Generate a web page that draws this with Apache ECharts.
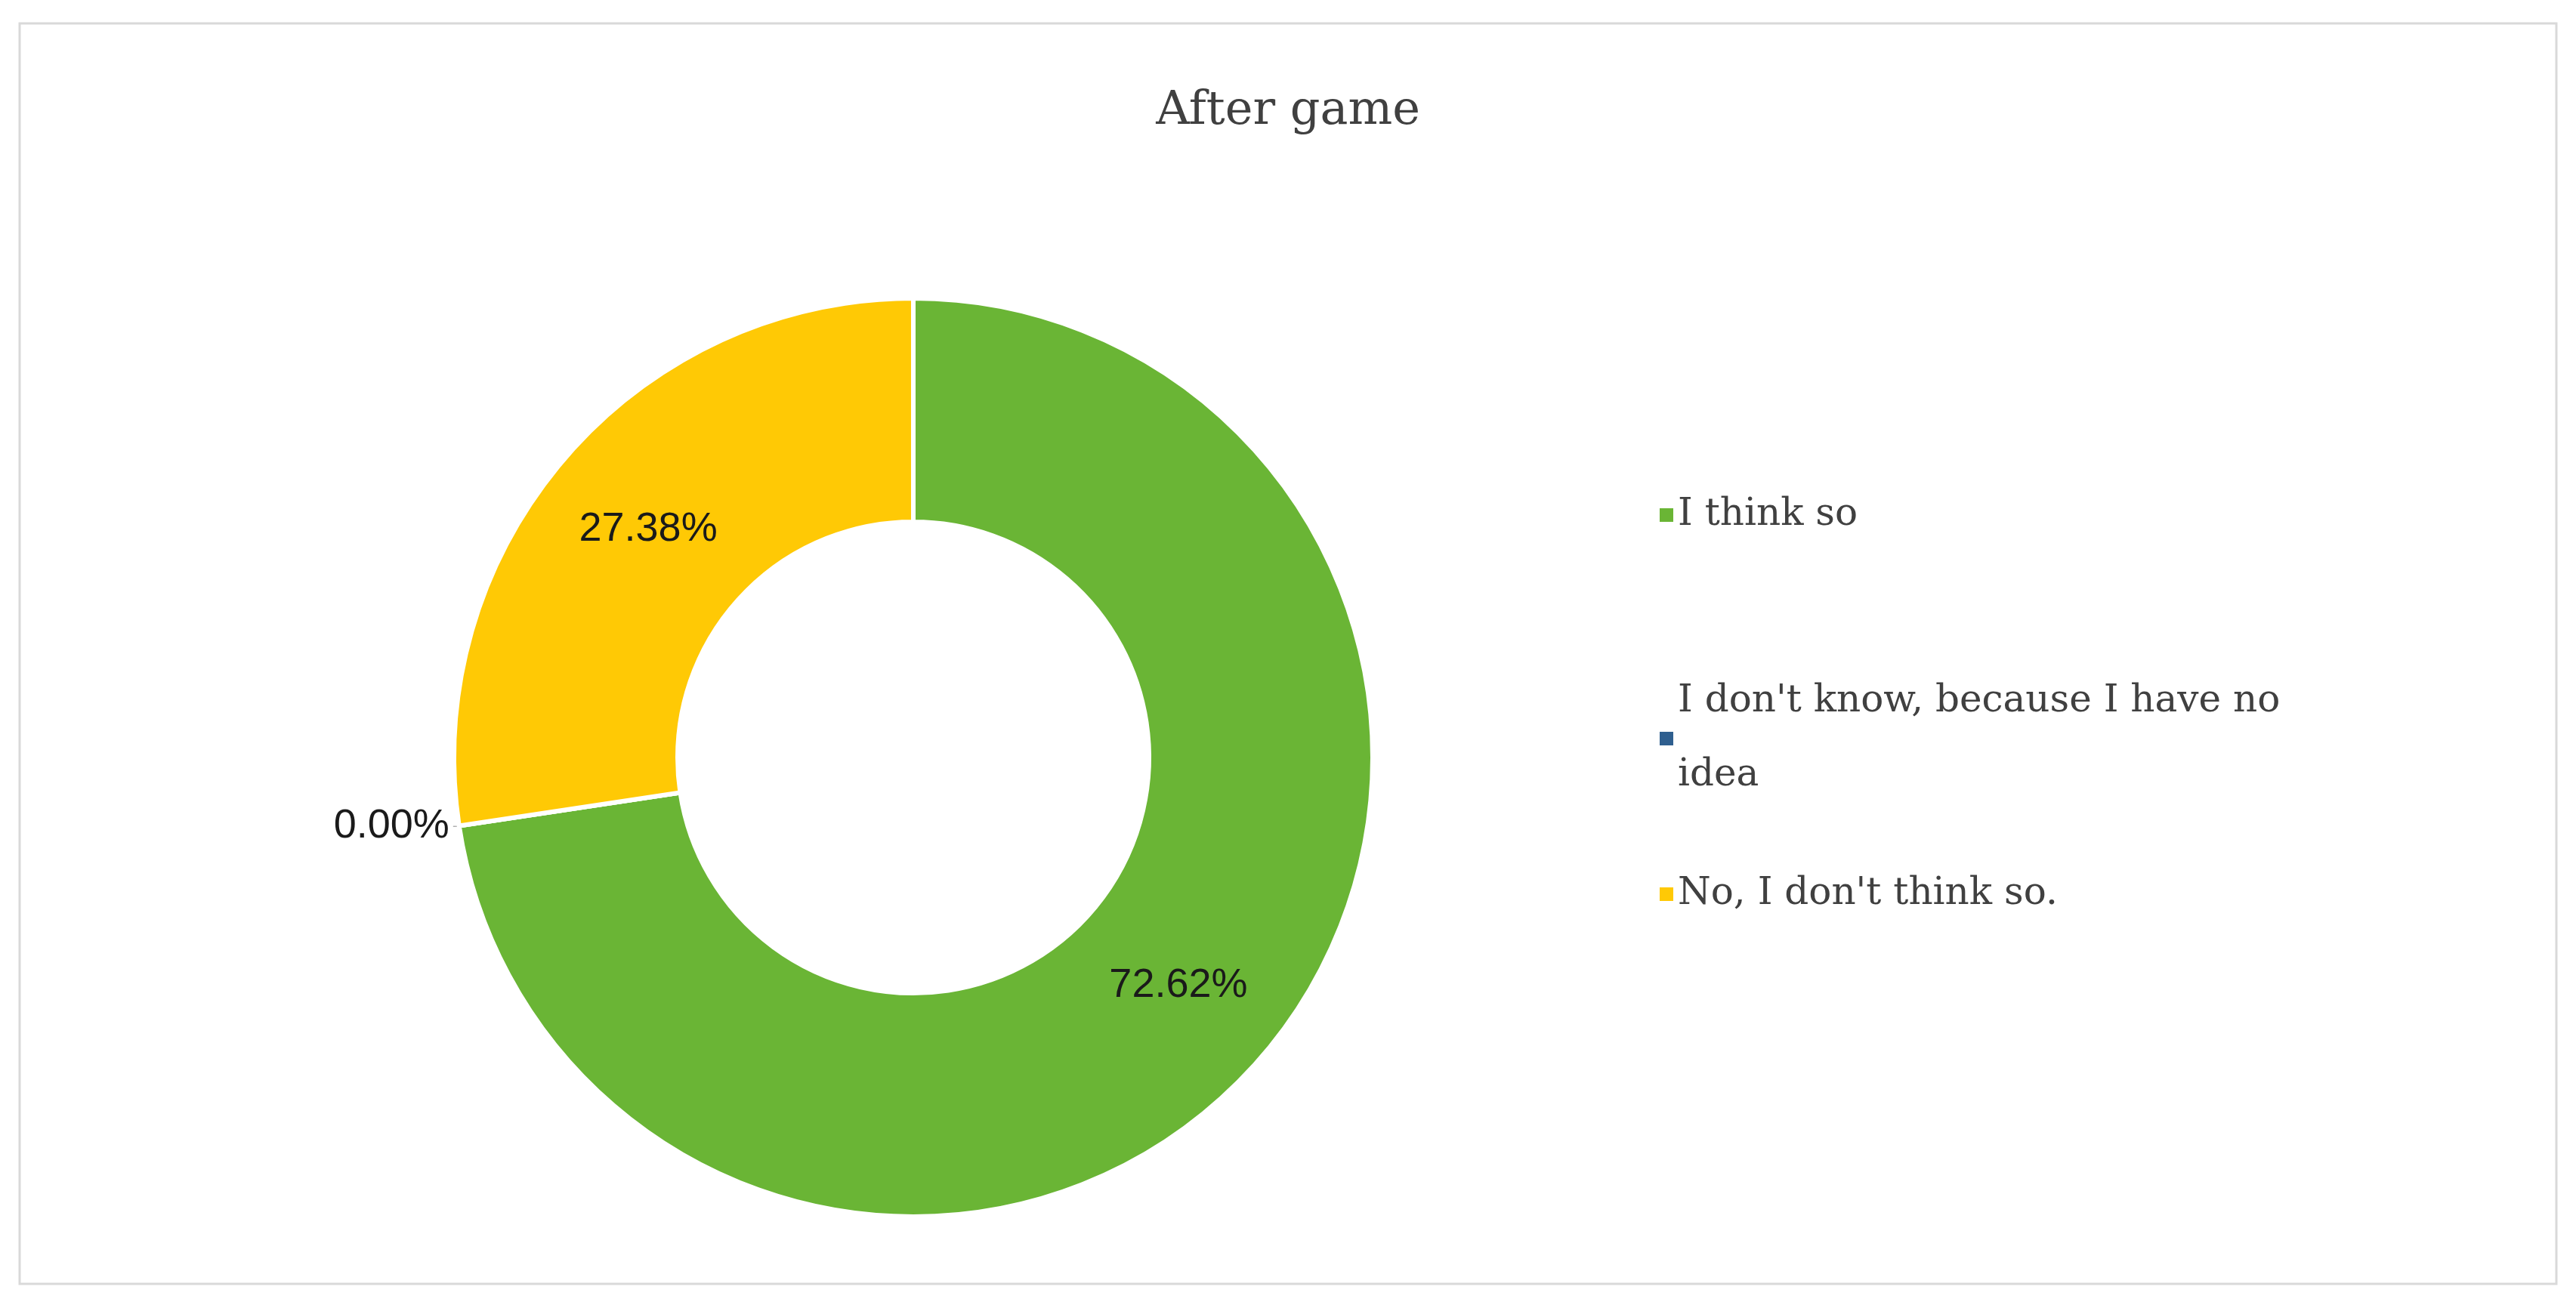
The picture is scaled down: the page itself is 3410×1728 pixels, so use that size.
<!DOCTYPE html>
<html>
<head>
<meta charset="utf-8">
<title>After game</title>
<script src="https://cdn.jsdelivr.net/npm/echarts@6/dist/echarts.min.js"></script>
</head>
<body style="margin:0">
<div id="main" style="width:3410px;height:1728px"></div>
<script>
var categories = ["I think so", "I don't know, because I have no idea", "No, I don't think so."];
var values = [72.62, 0.00, 27.38];
var colors = ['#6ab535', '#2f5f8f', '#ffc905'];
var legendTops = [628, 875, 1130];

var chart = echarts.init(document.getElementById('main'));

var data = categories.map(function (c, i) {
    var d = { name: c, value: values[i], itemStyle: { color: colors[i] } };
    if (values[i] === 0) {
        d.label = { position: 'outside', distance: 6 };
        d.labelLine = { show: true, length: 4, length2: 4, lineStyle: { color: '#888' } };
    }
    return d;
});

var legends = categories.map(function (c, i) {
    return {
        data: [c],
        orient: 'vertical',
        left: 2190,
        top: legendTops[i],
        itemWidth: 20,
        itemHeight: 20,
        icon: 'rect',
        formatter: function (n) {
            return n.replace('have no idea', 'have no\nidea');
        },
        textStyle: { fontFamily: 'DejaVu Serif', fontSize: 50, color: '#404040', lineHeight: 98 }
    };
});

var option = {
    backgroundColor: '#fff',
    animation: false,
    title: {
        text: 'After game',
        left: 'center',
        top: 112,
        textStyle: { fontFamily: 'DejaVu Serif', fontWeight: 'normal', fontSize: 62, color: '#404040' }
    },
    graphic: [{
        type: 'rect',
        shape: { x: 26, y: 31, width: 3358, height: 1669 },
        style: { fill: 'none', stroke: '#d9d9d9', lineWidth: 3 }
    }],
    legend: legends,
    series: [{
        type: 'pie',
        center: [1209, 1003],
        radius: [312, 608],
        startAngle: 90,
        clockwise: true,
        stillShowZeroSum: true,
        itemStyle: { borderColor: '#fff', borderWidth: 6 },
        label: {
            show: true,
            position: 'inside',
            formatter: function (p) { return p.value.toFixed(2) + '%'; },
            fontFamily: 'Liberation Sans',
            fontSize: 54,
            color: '#1a1a1a'
        },
        data: data
    }]
};

chart.setOption(option);
</script>
</body>
</html>
